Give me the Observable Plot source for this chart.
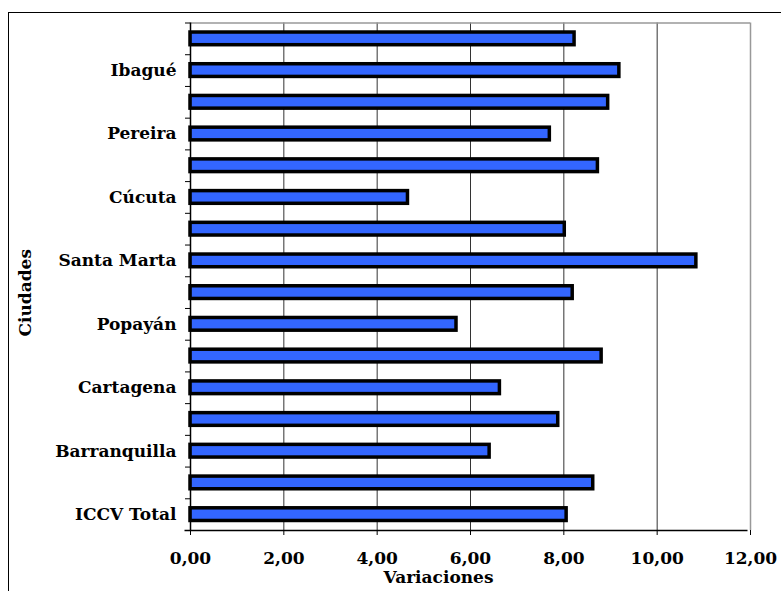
<!DOCTYPE html>
<html><head><meta charset="utf-8">
<script src="https://cdn.jsdelivr.net/npm/d3@7"></script>
<script src="https://cdn.jsdelivr.net/npm/@observablehq/plot@0.6"></script>
<style>
body{margin:0;background:#fff;}
#wrap{position:relative;width:781px;height:591px;overflow:hidden;}
#frame{position:absolute;left:8px;top:12px;width:900px;height:700px;border-left:1.5px solid #000;border-top:1.5px solid #000;}
#chart{position:absolute;left:0;top:0;}
</style></head><body><div id="wrap"><div id="frame"></div><div id="chart"></div></div>
<script>
const cities = ["ICCV Total","Medellín","Barranquilla","Bogotá","Cartagena","Manizales","Popayán","Neiva","Santa Marta","Pasto","Cúcuta","Armenia","Pereira","Bucaramanga","Ibagué","Cali"];
const values = [8.06, 8.63, 6.41, 7.88, 6.63, 8.81, 5.70, 8.19, 10.84, 8.02, 4.66, 8.73, 7.70, 8.95, 9.19, 8.23];
const shownLabels = ["ICCV Total","Barranquilla","Cartagena","Popayán","Santa Marta","Cúcuta","Pereira","Ibagué"];
const xTicks = [0, 2, 4, 6, 8, 10, 12];
const xTitle = "Variaciones";
const yTitle = "Ciudades";

const data = cities.map((c, i) => ({city: c, idx: i, value: values[i]}));
const fmt = d => d.toFixed(2).replace(".", ",");
const font = "'DejaVu Serif', serif";

const chart = Plot.plot({
  width: 781, height: 591,
  marginLeft: 190, marginRight: 31, marginTop: 22.5, marginBottom: 61,
  style: {fontFamily: font, fontWeight: "bold", fontSize: "17px", background: "transparent", overflow: "visible", color: "#000"},
  x: {domain: [0, 12]},
  y: {domain: [0, 16]},
  marks: [
    Plot.ruleX(xTicks.slice(1, -1), {stroke: "#333", strokeWidth: 1}),
    Plot.ruleX([12], {stroke: "#999", strokeWidth: 1.5}),
    Plot.ruleY([16], {stroke: "#999", strokeWidth: 1.5}),
    Plot.rectX(data, {x1: 0, x2: "value", y1: d => d.idx + 0.3, y2: d => d.idx + 0.7, fill: "#3366FF", stroke: "#000", strokeWidth: 3.5}),
    Plot.ruleX([0], {stroke: "#000", strokeWidth: 1.5}),
    Plot.ruleY([0], {stroke: "#000", strokeWidth: 1.5, dx: -2.5, insetLeft: -3}),
    Plot.axisX({ticks: xTicks, tickFormat: fmt, tickSize: 5, tickPadding: 16, label: null, fontSize: 17, fontWeight: "bold", stroke: "#000", style: {letterSpacing: "0.6px"}}),
    Plot.axisY({ticks: d3.range(17), tickSize: 5, tickFormat: () => "", label: null, stroke: "#000"}),
    Plot.axisY({ticks: data.filter(d => shownLabels.includes(d.city)).map(d => d.idx + 0.5), tickSize: 0, tickPadding: 14, tickFormat: v => cities[Math.round(v - 0.5)], label: null, fontSize: 17, fontWeight: "bold"}),
    Plot.text([xTitle], {text: d => d, frameAnchor: "bottom", textAnchor: "middle", lineAnchor: "middle", dx: -32, dy: 47, fontSize: 17, fontWeight: "bold"}),
    Plot.text([yTitle], {text: d => d, frameAnchor: "left", textAnchor: "middle", lineAnchor: "middle", rotate: -90, dx: -165, dy: 16, fontSize: 17, fontWeight: "bold"})
  ]
});
document.getElementById("chart").appendChild(chart);
</script></body></html>
